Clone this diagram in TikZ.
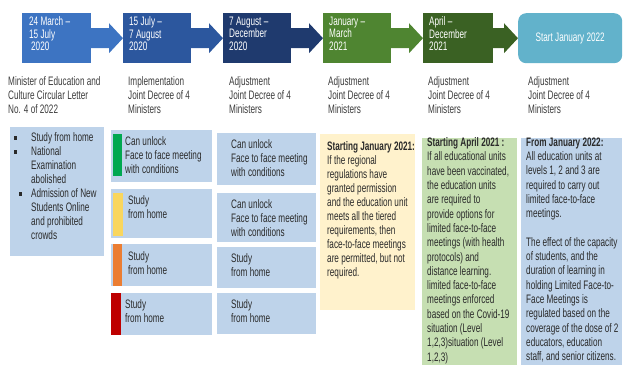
\documentclass[tikz,border=0pt]{standalone}
\usepackage{fontspec}
\setmainfont{Liberation Sans}[FakeStretch=0.665]
\usetikzlibrary{calc}
\definecolor{cA}{HTML}{3D74C2}
\definecolor{cB}{HTML}{2C579E}
\definecolor{cC}{HTML}{1F3A6E}
\definecolor{cD}{HTML}{4F8531}
\definecolor{cE}{HTML}{3A6123}
\definecolor{cF}{HTML}{62B2CB}
\definecolor{lblue}{HTML}{BED3EA}
\definecolor{lyellow}{HTML}{FFF2CC}
\definecolor{lgreen}{HTML}{C6DFB2}
\definecolor{bgreen}{HTML}{00A850}
\definecolor{byellow}{HTML}{F9D65E}
\definecolor{borange}{HTML}{EB7D32}
\definecolor{bred}{HTML}{BE0000}
\definecolor{lbl}{HTML}{3C3C3C}
\definecolor{dtxt}{HTML}{2A2A2A}
\begin{document}
\begin{tikzpicture}[x=1pt,y=-1pt,
  tbox/.style={anchor=north west, inner sep=0, minimum height=50pt},
  ttxt/.style={anchor=north west, inner sep=0, align=left, text=white, font=\fontsize{12.3}{12.5}\selectfont},
  lab/.style={anchor=north west, inner sep=0, align=left, text=lbl, font=\fontsize{12.3}{13.7}\selectfont},
  lbox/.style={anchor=north west, inner sep=0, fill=lblue},
  bar/.style={anchor=north west, inner sep=0},
  btxt/.style={anchor=north west, inner sep=0, align=left, text=dtxt, font=\fontsize{12.3}{14}\selectfont},
  gtxt/.style={anchor=north west, inner sep=0, align=left, text=dtxt, font=\fontsize{12.3}{14.3}\selectfont},
  bul/.style={fill=dtxt, inner sep=0, minimum size=3.2pt}
]
\useasboundingbox (0,0) rectangle (624,365);

% top timeline boxes
\node[tbox, fill=cA, minimum width=69pt] (b1) at (22,13) {};
\node[tbox, fill=cB, minimum width=68pt] (b2) at (123,13) {};
\node[tbox, fill=cC, minimum width=68pt] (b3) at (223,13) {};
\node[tbox, fill=cD, minimum width=68pt] (b4) at (323,13) {};
\node[tbox, fill=cE, minimum width=70pt] (b5) at (423,13) {};
\node[tbox, fill=cF, minimum width=104pt, rounded corners=8pt, text=white,
      font=\fontsize{12.3}{13}\selectfont] (b6) at (518,13) {Start January 2022};

\foreach \s/\t/\c in {b1/b2/cA, b2/b3/cB, b3/b4/cC, b4/b5/cD, b5/b6/cE}
  \fill[\c] ($(\s.east)+(-1,-10)$) -- ($(\t.west)+(-14,-10)$) -- ($(\t.west)+(-14,-15)$)
    -- (\t.west) -- ($(\t.west)+(-14,15)$) -- ($(\t.west)+(-14,10)$) -- ($(\s.east)+(-1,10)$) -- cycle;

\node[ttxt] (t1) at (29,16.5) {24 March –\\15 July\\\hspace{2pt}2020};
\node[ttxt] (t2) at (129,16.5) {15 July –\\7 August\\2020};
\node[ttxt] (t3) at (229,16.5) {7 August –\\December\\2020};
\node[ttxt] (t4) at (329,16.5) {January –\\March\\2021};
\node[ttxt] (t5) at (429,16.5) {April –\\December\\2021};

% labels
\node[lab] (l1) at (8,76.5) {Minister of Education and\\Culture Circular Letter\\No. 4 of 2022};
\node[lab] (l2) at (128,76.5) {Implementation\\Joint Decree of 4\\Ministers};
\node[lab] (l3) at (229,76.5) {Adjustment\\Joint Decree of 4\\Ministers};
\node[lab] (l4) at (328,76.5) {Adjustment\\Joint Decree of 4\\Ministers};
\node[lab] (l5) at (428,76.5) {Adjustment\\Joint Decree of 4\\Ministers};
\node[lab] (l6) at (528,76.5) {Adjustment\\Joint Decree of 4\\Ministers};

% left list box
\node[lbox, minimum width=94pt, minimum height=129pt] (k1) at (10,127) {};
\node[bul] (u1) at (15.5,138) {};
\node[bul] (u2) at (15.5,152) {};
\node[bul] (u3) at (20.5,194) {};
\node[btxt] (k1t) at (31,132.5) {Study from home\\National\\Examination\\abolished\\Admission of New\\Students Online\\and prohibited\\crowds};

% column 2
\node[lbox, minimum width=101pt, minimum height=52pt] (m1) at (111,130) {};
\node[lbox, minimum width=101pt, minimum height=49pt] (m2) at (111,189) {};
\node[lbox, minimum width=101pt, minimum height=42pt] (m3) at (111,244) {};
\node[lbox, minimum width=101pt, minimum height=42pt] (m4) at (111,293) {};
\node[bar, fill=bgreen, minimum width=9pt, minimum height=42pt] (g1) at (113,134) {};
\node[bar, fill=byellow, minimum width=10pt, minimum height=43pt] (g2) at (113,193) {};
\node[bar, fill=borange, minimum width=9pt, minimum height=42pt] (g3) at (113,244) {};
\node[bar, fill=bred, minimum width=10pt, minimum height=42pt] (g4) at (111,293) {};
\node[btxt] (m1t) at (125,136.5) {Can unlock\\Face to face meeting\\with conditions};
\node[btxt] (m2t) at (128,195.5) {Study\\from home};
\node[btxt] (m3t) at (128,251.5) {Study\\from home};
\node[btxt] (m4t) at (125,299.5) {Study\\from home};

% column 3
\node[lbox, minimum width=99pt, minimum height=52pt] (n1) at (217,133) {};
\node[lbox, minimum width=99pt, minimum height=49pt] (n2) at (217,193) {};
\node[lbox, minimum width=99pt, minimum height=41pt] (n3) at (217,247) {};
\node[lbox, minimum width=99pt, minimum height=41pt] (n4) at (217,293) {};
\node[btxt] (n1t) at (231,139.5) {Can unlock\\Face to face meeting\\with conditions};
\node[btxt] (n2t) at (231,199.5) {Can unlock\\Face to face meeting\\with conditions};
\node[btxt] (n3t) at (231,253.5) {Study\\from home};
\node[btxt] (n4t) at (231,299.5) {Study\\from home};

% column 4 (yellow)
\node[lbox, fill=lyellow, minimum width=95pt, minimum height=176pt] (y1) at (320,134) {};
\node[btxt] (y1t) at (327,141.5) {\textbf{Starting January 2021:}\\If the regional\\regulations have\\granted permission\\and the education unit\\meets all the tiered\\requirements, then\\face-to-face meetings\\are permitted, but not\\required.};

% column 5 (green)
\node[lbox, fill=lgreen, minimum width=95pt, minimum height=227pt] (z1) at (422,138) {};
\node[gtxt] (z1t) at (427,137.5) {\textbf{Starting April 2021 :}\\If all educational units\\have been vaccinated,\\the education units\\are required to\\provide options for\\limited face-to-face\\meetings (with health\\protocols) and\\distance learning.\\limited face-to-face\\meetings enforced\\based on the Covid-19\\situation (Level\\1,2,3)situation (Level\\1,2,3)};

% column 6 (blue)
\node[lbox, minimum width=101pt, minimum height=227pt] (w1) at (521,138) {};
\node[gtxt] (w1t) at (526,137.5) {\textbf{From January 2022:}\\All education units at\\levels 1, 2 and 3 are\\required to carry out\\limited face-to-face\\meetings.\\[14.3pt]The effect of the capacity\\of students, and the\\duration of learning in\\holding Limited Face-to-\\Face Meetings is\\regulated based on the\\coverage of the dose of 2\\educators, education\\staff, and senior citizens.};
\end{tikzpicture}
\end{document}
